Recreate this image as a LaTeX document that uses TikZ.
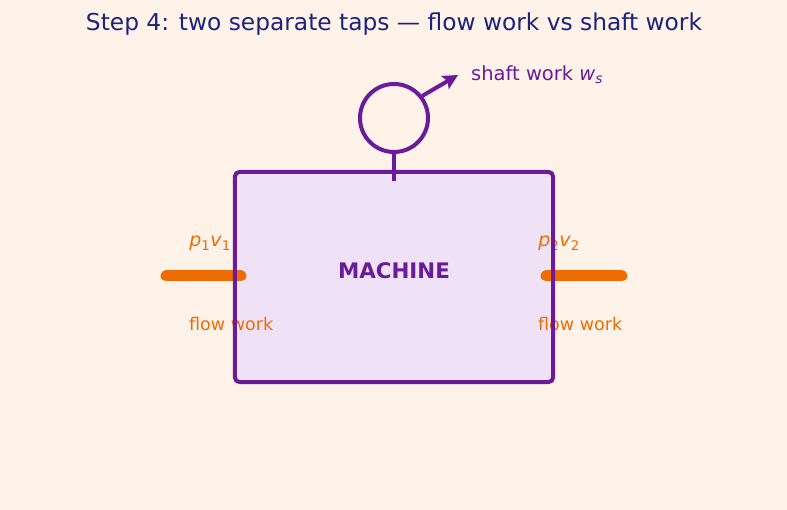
\documentclass[tikz,border=0pt]{standalone}
\usepackage{fontspec}
\setmainfont{DejaVu Sans}
\usetikzlibrary{arrows.meta, positioning}
\definecolor{bgcream}{HTML}{FFF2E8}
\definecolor{machpurple}{HTML}{6A1B9A}
\definecolor{machfill}{HTML}{EFE2F6}
\definecolor{floworange}{HTML}{EF6C00}
\definecolor{titlenavy}{HTML}{1A237E}
\newcommand{\pv}[2]{\textit{#1}\textsubscript{#2}}
\begin{document}
\begin{tikzpicture}[x=1pt, y=-1pt]
		\tikzstyle{Machine} = [rectangle, minimum width=318pt, minimum height=210pt, fill=machfill, inner sep=0pt]
		\tikzstyle{Border} = [draw=machpurple, line width=4pt, rounded corners=5pt]
		\tikzstyle{Shaft} = [circle, minimum size=68pt, draw=machpurple, line width=4pt, inner sep=0pt]
		\tikzstyle{Tap} = [draw=floworange, line width=11pt, line cap=round]
		\tikzstyle{Label} = [text=floworange, font=\fontsize{17.5}{21}\selectfont, inner sep=0pt]
		\tikzstyle{arrow} = [draw=machpurple, line width=4pt, -{Stealth[length=15pt, width=15pt, inset=3pt]}]
		
		\fill[bgcream] (0,0) rectangle (787,510);
		\useasboundingbox (0,0) rectangle (787,510);
		
		\node (title) [text=titlenavy, font=\fontsize{23.3}{28}\selectfont] at (394,24) {Step 4: two separate taps --- flow work vs shaft work};
		
		\node (machine) [Machine] at (394,277) {};
		\node (machinelabel) [text=machpurple, font=\fontsize{21.4}{25}\selectfont\bfseries, inner sep=0pt] at (394,271) {MACHINE};
		\node (shaft) [Shaft] at (394,118) {};
		\coordinate (stemend) at (394,181);
		\coordinate (shaftout) at (458,75);
		\node (shaftlabel) [anchor=west, text=machpurple, font=\fontsize{19.5}{23}\selectfont, inner sep=0pt] at (471,75) {shaft work \textit{w}\textsubscript{\textit{s}}};
		
		% flow work taps
		\coordinate (inleft) at (166,276);
		\coordinate (inright) at (241,276);
		\coordinate (outleft) at (546,276);
		\coordinate (outright) at (622,276);
		\draw[Tap] (inleft) -- (inright);
		\draw[Tap] (outleft) -- (outright);
		\node (pvin) [Label, font=\fontsize{19}{23}\selectfont] at (210,243) {\pv{p}{1}\pv{v}{1}};
		\node (pvout) [Label, font=\fontsize{19}{23}\selectfont] at (559,243) {\pv{p}{2}\pv{v}{2}};
		\node (flowin) [Label, anchor=west] at (189,324) {flow work};
		\node (flowout) [Label, anchor=west] at (538,324) {flow work};
		
		\draw[Border] (machine.north west) rectangle (machine.south east);
		\draw[machpurple, line width=4pt] (shaft.south) -- (stemend);
		\draw[arrow] (shaft.38) -- (shaftout);
		
		\end{tikzpicture}
\end{document}
